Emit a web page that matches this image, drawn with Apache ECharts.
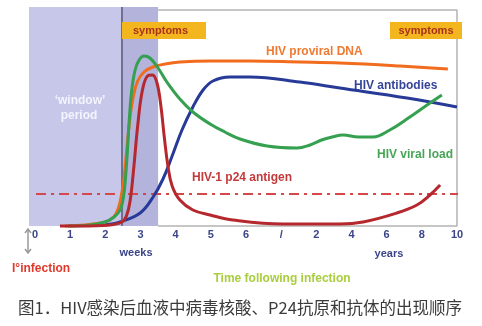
<!DOCTYPE html>
<html>
<head>
<meta charset="utf-8">
<script src="https://cdn.jsdelivr.net/npm/echarts@6/dist/echarts.min.js"></script>
<style>
html,body{margin:0;padding:0;background:#fff;}
#c{width:482px;height:326px;}
</style>
</head>
<body>
<div id="c"></div>
<script>
// tick labels along the time axis (weeks 0-6, then years)
var tickValues = [0,1,2,3,4,5,6,7,8,9,10,11,12];
var tickLabels = ['0','1','2','3','4','5','6','/','2','4','6','8','10'];

// curves: [time position, relative level]
var viralLoad = [[0.94,0],[1.56,1],[1.99,4],[2.25,9],[2.42,16],[2.52,30],[2.60,60],[2.67,100],[2.74,132],[2.84,155],[2.96,166],[3.10,170],[3.27,168],[3.50,158],[3.75,144],[4.12,127],[4.49,114],[4.98,102],[5.40,94],[5.83,87],[6.60,80],[7.45,78],[7.82,81],[8.15,86],[8.45,89],[8.76,91],[9.20,89],[9.61,89],[10.09,96],[10.66,109],[11.15,121],[11.57,131]];
var proviralDNA = [[0.85,0],[1.42,1],[1.85,3],[2.13,6],[2.30,12],[2.42,24],[2.53,48],[2.62,80],[2.70,108],[2.80,130],[2.92,145],[3.10,154],[3.35,159],[3.70,162],[4.12,164],[4.98,165],[6.11,165],[7.53,164],[8.67,163],[10.38,160],[11.74,157]];
var p24Antigen = [[0.71,0],[1.28,0],[2.13,1],[2.47,4],[2.60,10],[2.70,24],[2.80,55],[2.92,100],[3.05,135],[3.20,150],[3.34,151],[3.47,143],[3.58,120],[3.68,88],[3.78,60],[3.90,40],[4.12,26],[4.49,16],[4.98,11],[5.63,6],[7.05,2],[8.67,2],[9.33,4],[10.29,13],[10.86,21],[11.23,31],[11.52,41]];
var antibodies = [[1.99,1],[2.42,4],[2.99,13],[3.36,29],[3.64,47],[3.90,70],[4.18,96],[4.49,119],[4.78,136],[5.06,145],[5.54,149],[6.11,149],[7.53,144],[8.67,138],[10.58,128],[12.0,119]];
var detectionLevel = [[0.03,32],[12.31,32]];

// periods
var windowPeriod = [-0.17, 2.47];
var symptomPeriod = [2.47, 3.5];
var frameLine = [[3.5,216],[12,216],[12,0],[3.5,0]];

var chart = echarts.init(document.getElementById('c'), null, {renderer:'canvas'});
var boldFont = function(sz){ return 'bold ' + sz + 'px "Liberation Sans", Arial, sans-serif'; };

function curve(name, data, color, z){
  return {
    type:'line', name:name, data:data, smooth:0.4,
    showSymbol:false, symbol:'none', z:z, clip:false,
    lineStyle:{color:color, width:3}
  };
}

var option = {
  backgroundColor:'#ffffff',
  animation:false,
  grid:{left:29, right:25, top:7, bottom:100, outerBoundsMode:'none', containLabel:false},
  xAxis:{
    type:'value', min:-0.17, max:12,
    axisLine:{show:false}, axisTick:{show:false}, splitLine:{show:false},
    axisLabel:{
      customValues: tickValues,
      margin:3,
      color:'#3b4588', fontWeight:'bold', fontSize:11,
      fontFamily:'"Liberation Sans", Arial, sans-serif',
      formatter:function(v){ var i = tickValues.indexOf(Math.round(v)); return i>=0 ? tickLabels[i] : ''; }
    }
  },
  yAxis:{
    type:'value', min:0, max:219, show:false, splitLine:{show:false}
  },
  series:[
    {
      type:'line', data:[], z:1, silent:true,
      markArea:{
        silent:true,
        data:[
          [{xAxis:windowPeriod[0], itemStyle:{color:'#c7c7e9'}},{xAxis:windowPeriod[1]}],
          [{xAxis:symptomPeriod[0], itemStyle:{color:'#b3b3dc'}},{xAxis:symptomPeriod[1]}]
        ]
      },
      markLine:{
        silent:true, symbol:'none', label:{show:false},
        lineStyle:{color:'#6f6f92', width:2, type:'solid'},
        data:[{xAxis:windowPeriod[1]}]
      }
    },
    {
      type:'line', data:frameLine, z:2, showSymbol:false, symbol:'none', clip:false,
      lineStyle:{color:'#b4b4b4', width:1.5}
    },
    {
      type:'line', data:detectionLevel, z:3, showSymbol:false, symbol:'none', clip:false,
      lineStyle:{color:'#d4474a', width:2, type:[10,5,3,5]}
    },
    curve('HIV antibodies', antibodies, '#273a97', 4),
    curve('HIV proviral DNA', proviralDNA, '#f26c1e', 5),
    curve('HIV viral load', viralLoad, '#34a050', 6),
    curve('HIV-1 p24 antigen', p24Antigen, '#b5282d', 7)
  ],
  graphic:[
    {type:'rect', shape:{x:122, y:22, width:84, height:17}, style:{fill:'#f3b61f'}, z:10},
    {type:'text', x:133, y:31, style:{text:'symptoms', font:boldFont(11), fill:'#a8331a', align:'left', verticalAlign:'middle'}, z:11},
    {type:'rect', shape:{x:390, y:22, width:72, height:17}, style:{fill:'#f3b61f'}, z:10},
    {type:'text', x:426, y:31, style:{text:'symptoms', font:boldFont(11), fill:'#a8331a', align:'center', verticalAlign:'middle'}, z:11},
    {type:'text', x:80, y:101, style:{text:'\u2018window\u2019', font:boldFont(12), fill:'#f4f4ff', align:'center', verticalAlign:'middle'}, z:11},
    {type:'text', x:79, y:116, style:{text:'period', font:boldFont(12), fill:'#f4f4ff', align:'center', verticalAlign:'middle'}, z:11},
    {type:'text', x:266, y:52, style:{text:'HIV proviral DNA', font:boldFont(12), fill:'#f07a32', align:'left', verticalAlign:'middle'}, z:11},
    {type:'text', x:354, y:86, style:{text:'HIV antibodies', font:boldFont(12), fill:'#35459a', align:'left', verticalAlign:'middle'}, z:11},
    {type:'text', x:377, y:155, style:{text:'HIV viral load', font:boldFont(12), fill:'#46a455', align:'left', verticalAlign:'middle'}, z:11},
    {type:'text', x:192, y:178, style:{text:'HIV-1 p24 antigen', font:boldFont(12), fill:'#c43a3a', align:'left', verticalAlign:'middle'}, z:11},
    {type:'text', x:136, y:253, style:{text:'weeks', font:boldFont(11), fill:'#3b4588', align:'center', verticalAlign:'middle'}, z:11},
    {type:'text', x:389, y:254, style:{text:'years', font:boldFont(11), fill:'#3b4588', align:'center', verticalAlign:'middle'}, z:11},
    {type:'text', x:12, y:269, style:{text:'I\u00b0infection', font:boldFont(12), fill:'#e03a2c', align:'left', verticalAlign:'middle'}, z:11},
    {type:'text', x:282, y:279, style:{text:'Time following infection', font:boldFont(12), fill:'#a9cd3e', align:'center', verticalAlign:'middle'}, z:11},
    {type:'line', shape:{x1:28, y1:229, x2:28, y2:253}, style:{stroke:'#9a9a9a', lineWidth:1.5}, z:11},
    {type:'polyline', shape:{points:[[25,233],[28,229],[31,233]]}, style:{stroke:'#9a9a9a', lineWidth:1.5, fill:null}, z:11},
    {type:'polyline', shape:{points:[[25,249],[28,253],[31,249]]}, style:{stroke:'#9a9a9a', lineWidth:1.5, fill:null}, z:11},
    {type:'text', x:240, y:308, style:{text:'图1．HIV感染后血液中病毒核酸、P24抗原和抗体的出现顺序', font:'16.5px "Noto Sans CJK SC", sans-serif', fill:'#3a3a3a', align:'center', verticalAlign:'middle'}, z:11}
  ]
};
chart.setOption(option);
</script>
</body>
</html>
